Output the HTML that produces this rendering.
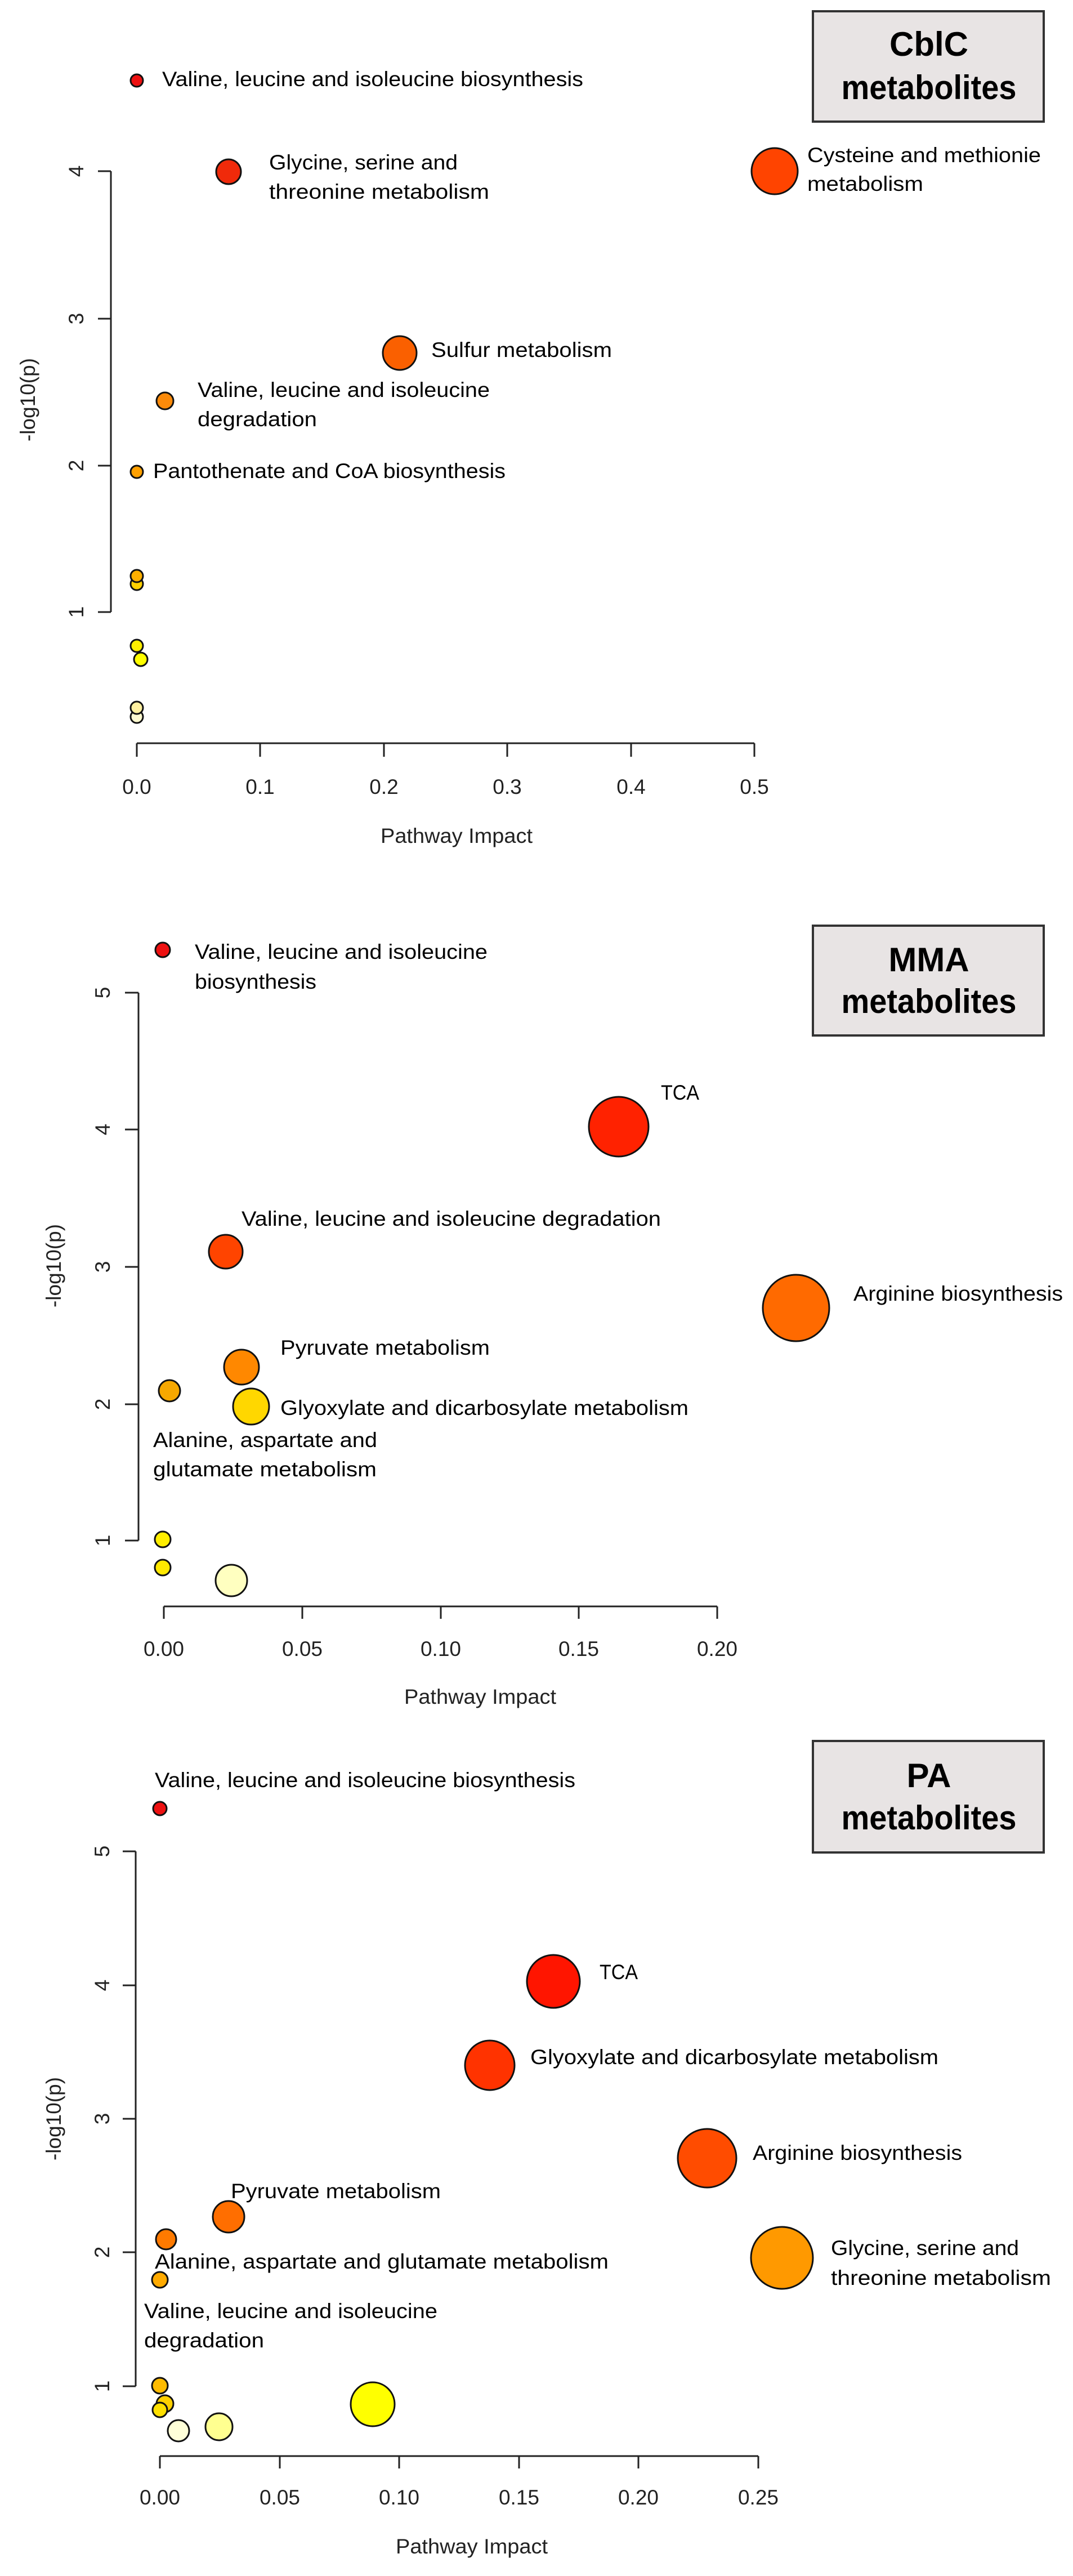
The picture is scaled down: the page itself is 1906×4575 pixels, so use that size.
<!DOCTYPE html>
<html><head><meta charset="utf-8"><style>
html,body{margin:0;padding:0;background:#fff}
svg{display:block}
.l{font-family:"Liberation Sans",sans-serif;font-size:37px;fill:#000}
.t{font-family:"Liberation Sans",sans-serif;font-size:37px;fill:#222}
.b{font-family:"Liberation Sans",sans-serif;font-size:60px;font-weight:bold;fill:#000}
.ax{stroke:#222;stroke-width:3;fill:none}
circle{stroke:#111;stroke-width:3}
</style></head><body>
<svg width="1906" height="4575" viewBox="0 0 1906 4575" xmlns="http://www.w3.org/2000/svg">
<!-- Panel 1 -->
<path class="ax" d="M197 304V1087M174 304H197M174 566H197M174 827H197M174 1087H197"/>
<g class="t" text-anchor="middle">
<text transform="translate(148,304) rotate(-90)">4</text>
<text transform="translate(148,566) rotate(-90)">3</text>
<text transform="translate(148,827) rotate(-90)">2</text>
<text transform="translate(148,1087) rotate(-90)">1</text>
<text transform="translate(62,710) rotate(-90)">-log10(p)</text>
</g>
<path class="ax" d="M243 1320H1340M243 1320V1344M462 1320V1344M682 1320V1344M901 1320V1344M1121 1320V1344M1340 1320V1344"/>
<g class="t" text-anchor="middle">
<text x="243" y="1410">0.0</text><text x="462" y="1410">0.1</text><text x="682" y="1410">0.2</text>
<text x="901" y="1410">0.3</text><text x="1121" y="1410">0.4</text><text x="1340" y="1410">0.5</text>
<text x="811" y="1497" textLength="270" lengthAdjust="spacingAndGlyphs">Pathway Impact</text>
</g>
<circle cx="243" cy="1273" r="11" fill="#fffad0"/>
<circle cx="243" cy="1257" r="11" fill="#fff0a0"/>
<circle cx="250" cy="1171" r="12" fill="#ffff00"/>
<circle cx="243" cy="1147" r="11" fill="#ffee00"/>
<circle cx="243" cy="1037" r="11" fill="#ffd000"/>
<circle cx="243" cy="1023" r="11" fill="#ffb000"/>
<circle cx="243" cy="838" r="11" fill="#ffa000"/>
<circle cx="293" cy="712" r="15" fill="#fb8a0a"/>
<circle cx="710" cy="627" r="30" fill="#fa6000"/>
<circle cx="1376" cy="304" r="41" fill="#ff4400"/>
<circle cx="406" cy="305" r="22" fill="#f02a0a"/>
<circle cx="243" cy="143" r="11" fill="#ee1111"/>
<g class="l">
<text x="288" y="153" textLength="748" lengthAdjust="spacingAndGlyphs">Valine, leucine and isoleucine biosynthesis</text>
<text x="478" y="301" textLength="335" lengthAdjust="spacingAndGlyphs">Glycine, serine and</text>
<text x="478" y="353" textLength="391" lengthAdjust="spacingAndGlyphs">threonine metabolism</text>
<text x="1434" y="288" textLength="415" lengthAdjust="spacingAndGlyphs">Cysteine and methionie</text>
<text x="1434" y="339" textLength="206" lengthAdjust="spacingAndGlyphs">metabolism</text>
<text x="766" y="634" textLength="321" lengthAdjust="spacingAndGlyphs">Sulfur metabolism</text>
<text x="351" y="705" textLength="519" lengthAdjust="spacingAndGlyphs">Valine, leucine and isoleucine</text>
<text x="351" y="757" textLength="212" lengthAdjust="spacingAndGlyphs">degradation</text>
<text x="272" y="849" textLength="626" lengthAdjust="spacingAndGlyphs">Pantothenate and CoA biosynthesis</text>
</g>
<rect x="1444" y="20" width="410" height="196" fill="#e8e4e4" stroke="#333" stroke-width="4"/>
<g class="b" text-anchor="middle"><text x="1650" y="99">CblC</text><text x="1650" y="176" textLength="311" lengthAdjust="spacingAndGlyphs">metabolites</text></g>

<!-- Panel 2 -->
<path class="ax" d="M246 1763V2736M222 1763H246M222 2006H246M222 2250H246M222 2494H246M222 2736H246"/>
<g class="t" text-anchor="middle">
<text transform="translate(195,1763) rotate(-90)">5</text>
<text transform="translate(195,2006) rotate(-90)">4</text>
<text transform="translate(195,2250) rotate(-90)">3</text>
<text transform="translate(195,2494) rotate(-90)">2</text>
<text transform="translate(195,2736) rotate(-90)">1</text>
<text transform="translate(108,2248) rotate(-90)">-log10(p)</text>
</g>
<path class="ax" d="M291 2853H1274M291 2853V2875M537 2853V2875M783 2853V2875M1028 2853V2875M1274 2853V2875"/>
<g class="t" text-anchor="middle">
<text x="291" y="2941">0.00</text><text x="537" y="2941">0.05</text><text x="783" y="2941">0.10</text>
<text x="1028" y="2941">0.15</text><text x="1274" y="2941">0.20</text>
<text x="853" y="3026" textLength="270" lengthAdjust="spacingAndGlyphs">Pathway Impact</text>
</g>
<circle cx="411" cy="2807" r="28" fill="#ffffc0"/>
<circle cx="289" cy="2784" r="14" fill="#ffe800"/>
<circle cx="289" cy="2734" r="14" fill="#ffee00"/>
<circle cx="301" cy="2470" r="19" fill="#f7a800"/>
<circle cx="446" cy="2498" r="32" fill="#ffd700"/>
<circle cx="429" cy="2428" r="31" fill="#ff8800"/>
<circle cx="1414" cy="2323" r="59" fill="#ff6a00"/>
<circle cx="401" cy="2223" r="30" fill="#ff4400"/>
<circle cx="1099" cy="2001" r="53" fill="#ff2200"/>
<circle cx="289" cy="1687" r="13" fill="#ee1111"/>
<g class="l">
<text x="346" y="1703" textLength="520" lengthAdjust="spacingAndGlyphs">Valine, leucine and isoleucine</text>
<text x="346" y="1756" textLength="216" lengthAdjust="spacingAndGlyphs">biosynthesis</text>
<text x="1174" y="1953" textLength="68" lengthAdjust="spacingAndGlyphs">TCA</text>
<text x="429" y="2177" textLength="745" lengthAdjust="spacingAndGlyphs">Valine, leucine and isoleucine degradation</text>
<text x="1516" y="2310" textLength="372" lengthAdjust="spacingAndGlyphs">Arginine biosynthesis</text>
<text x="498" y="2406" textLength="372" lengthAdjust="spacingAndGlyphs">Pyruvate metabolism</text>
<text x="498" y="2513" textLength="725" lengthAdjust="spacingAndGlyphs">Glyoxylate and dicarbosylate metabolism</text>
<text x="272" y="2570" textLength="398" lengthAdjust="spacingAndGlyphs">Alanine, aspartate and</text>
<text x="272" y="2622" textLength="397" lengthAdjust="spacingAndGlyphs">glutamate metabolism</text>
</g>
<rect x="1444" y="1644" width="410" height="195" fill="#e8e4e4" stroke="#333" stroke-width="4"/>
<g class="b" text-anchor="middle"><text x="1650" y="1725">MMA</text><text x="1650" y="1799" textLength="311" lengthAdjust="spacingAndGlyphs">metabolites</text></g>

<!-- Panel 3 -->
<path class="ax" d="M241 3288V4238M218 3288H241M218 3526H241M218 3763H241M218 4000H241M218 4238H241"/>
<g class="t" text-anchor="middle">
<text transform="translate(194,3288) rotate(-90)">5</text>
<text transform="translate(194,3526) rotate(-90)">4</text>
<text transform="translate(194,3763) rotate(-90)">3</text>
<text transform="translate(194,4000) rotate(-90)">2</text>
<text transform="translate(194,4238) rotate(-90)">1</text>
<text transform="translate(108,3763) rotate(-90)">-log10(p)</text>
</g>
<path class="ax" d="M284 4362H1347M284 4362V4384M497 4362V4384M709 4362V4384M922 4362V4384M1134 4362V4384M1347 4362V4384"/>
<g class="t" text-anchor="middle">
<text x="284" y="4448">0.00</text><text x="497" y="4448">0.05</text><text x="709" y="4448">0.10</text>
<text x="922" y="4448">0.15</text><text x="1134" y="4448">0.20</text><text x="1347" y="4448">0.25</text>
<text x="838" y="4535" textLength="270" lengthAdjust="spacingAndGlyphs">Pathway Impact</text>
</g>
<circle cx="662" cy="4270" r="39" fill="#ffff00"/>
<circle cx="389" cy="4310" r="24" fill="#ffff90"/>
<circle cx="317" cy="4317" r="19" fill="#ffffd8"/>
<circle cx="293" cy="4269" r="15" fill="#ffd000"/>
<circle cx="284" cy="4280" r="13" fill="#ffe000"/>
<circle cx="284" cy="4237" r="14" fill="#ffbb00"/>
<circle cx="284" cy="4049" r="14" fill="#ffaa00"/>
<circle cx="295" cy="3977" r="18" fill="#ff7a00"/>
<circle cx="406" cy="3937" r="28" fill="#ff6e00"/>
<circle cx="1389" cy="4010" r="55" fill="#ff9900"/>
<circle cx="1256" cy="3833" r="52" fill="#ff4c00"/>
<circle cx="870" cy="3668" r="44" fill="#ff3300"/>
<circle cx="983" cy="3519" r="47" fill="#ff1500"/>
<circle cx="284" cy="3212" r="12" fill="#ee1111"/>
<g class="l">
<text x="275" y="3174" textLength="747" lengthAdjust="spacingAndGlyphs">Valine, leucine and isoleucine biosynthesis</text>
<text x="1065" y="3515" textLength="68" lengthAdjust="spacingAndGlyphs">TCA</text>
<text x="942" y="3666" textLength="725" lengthAdjust="spacingAndGlyphs">Glyoxylate and dicarbosylate metabolism</text>
<text x="1337" y="3836" textLength="372" lengthAdjust="spacingAndGlyphs">Arginine biosynthesis</text>
<text x="1476" y="4005" textLength="334" lengthAdjust="spacingAndGlyphs">Glycine, serine and</text>
<text x="1476" y="4058" textLength="391" lengthAdjust="spacingAndGlyphs">threonine metabolism</text>
<text x="410" y="3904" textLength="373" lengthAdjust="spacingAndGlyphs">Pyruvate metabolism</text>
<text x="275" y="4029" textLength="806" lengthAdjust="spacingAndGlyphs">Alanine, aspartate and glutamate metabolism</text>
<text x="256" y="4117" textLength="521" lengthAdjust="spacingAndGlyphs">Valine, leucine and isoleucine</text>
<text x="256" y="4169" textLength="213" lengthAdjust="spacingAndGlyphs">degradation</text>
</g>
<rect x="1444" y="3092" width="410" height="198" fill="#e8e4e4" stroke="#333" stroke-width="4"/>
<g class="b" text-anchor="middle"><text x="1650" y="3174">PA</text><text x="1650" y="3249" textLength="311" lengthAdjust="spacingAndGlyphs">metabolites</text></g>
</svg>
</body></html>
